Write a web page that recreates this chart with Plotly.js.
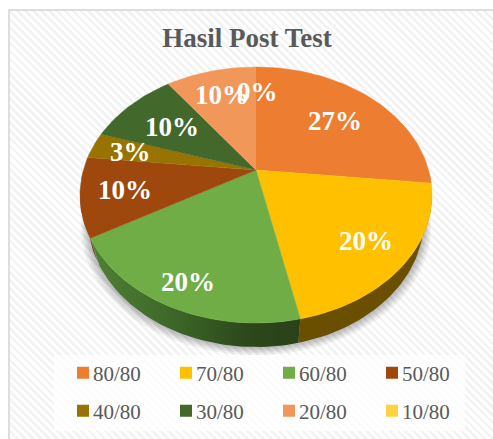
<!DOCTYPE html>
<html>
<head>
<meta charset="utf-8">
<script src="https://cdn.plot.ly/plotly-3.0.1.min.js"></script>
<style>
html,body{margin:0;padding:0;background:#fff;overflow:hidden}
#frame{position:absolute;left:8px;top:9px;width:500px;height:450px;border:2px solid #dedede;
background:repeating-linear-gradient(45deg,#ffffff 0 3px,#f3f3f3 3px 5.6px)}
#chart{position:absolute;left:0;top:0;width:493px;height:439px}
</style>
</head>
<body>
<div id="frame"></div>
<div id="chart"></div>
<script>
// Data (the labels show these counts out of 30 as percentages)
const categories = ['80/80','70/80','60/80','50/80','40/80','30/80','20/80','10/80'];
const counts = [8,6,6,3,1,3,3,0];
const colors = ['#ED7D31','#FFC000','#70AD47','#9E480E','#997300','#43682B','#F1975A','#FFD23F'];

// Layout of the tilted pie, in pixels of the 493x439 page
const labelX = [335,366,188,125,130,172,222,257];
const labelY = [121,241,282,190,152,127,95,92];
const pie = {cx:256, cy:195, ry:128, d:172.6, c:0.195, depth:24, rimScale:0.955};
const sideStart = 101.2, sideEnd = 258.8;

// Perspective projection of a circle point (angle in degrees clockwise from 12 o'clock)
function project(deg, r){
  const t = deg*Math.PI/180, u = r*Math.sin(t), v = r*Math.cos(t);
  const w = 1 + pie.c*v;
  return [pie.cx + pie.d*u/w, pie.cy - (pie.ry*v + pie.ry*pie.c)/w];
}
function arc(a0, a1){
  const n = Math.max(2, Math.ceil(Math.abs(a1-a0)/1.5));
  const pts = [];
  for(let i=0;i<=n;i++) pts.push(project(a0+(a1-a0)*i/n, 1));
  return pts;
}
// wall between the rim of the top face and the lower, slightly narrower rim
function band(a0, a1, drop, scale){
  const top = arc(a0,a1);
  const bot = arc(a0,a1).map(p=>[pie.cx+(p[0]-pie.cx)*scale, p[1]+drop]).reverse();
  return top.concat(bot);
}
function poly(pts, extra){
  return Object.assign({type:'scatter',mode:'lines',x:pts.map(p=>p[0]),y:pts.map(p=>p[1]),
    fill:'toself',showlegend:false,hoverinfo:'skip',line:{width:0}},extra);
}

const total = counts.reduce((a,b)=>a+b,0);
const traces = [];

// soft shadow under the pie
[8,6,4.5,3,1.5].forEach(s=>{
  traces.push(poly(band(sideStart-8,sideEnd+8,pie.depth+s,pie.rimScale+s*0.005),{fillcolor:'rgba(60,60,60,0.07)'}));
});

// slices: side walls first, then top faces
let acc = 0;
const sliceAngles = counts.map(p=>{const a=[acc,acc+p/total*360];acc=a[1];return a;});
const sideStyles = [
  null,
  {fillcolor:'#6A4F00'},
  {fillgradient:{type:'horizontal',colorscale:[[0,'#4F8035'],[0.35,'#3F6A2A'],[0.75,'#2D481B'],[1,'#2A4019']]}},
  {fillcolor:'#6E3208'},
  null,null,null,null
];
counts.forEach((p,i)=>{
  if(!sideStyles[i]) return;
  const a0=Math.max(sliceAngles[i][0],sideStart), a1=Math.min(sliceAngles[i][1],sideEnd);
  if(a1>a0) traces.push(poly(band(a0,a1,pie.depth,pie.rimScale),sideStyles[i]));
});
counts.forEach((p,i)=>{
  if(p<=0) return;
  const pts=[project(0,0)].concat(arc(sliceAngles[i][0],sliceAngles[i][1]));
  traces.push(poly(pts,{fillcolor:colors[i],line:{width:0.5,color:colors[i]}}));
});

// legend entries
categories.forEach((name,i)=>{
  traces.push({type:'scatter',mode:'markers',x:[null],y:[null],name:name,
    legend:i<4?'legend':'legend2',showlegend:true,hoverinfo:'skip',
    marker:{symbol:'square',size:12,color:colors[i]}});
});

const serif = '"Liberation Serif","Times New Roman",serif';
const legendBase = {orientation:'h',entrywidth:58,entrywidthmode:'pixels',x:53/493,xanchor:'left',yanchor:'middle',
  bgcolor:'rgba(0,0,0,0)',borderwidth:0,font:{family:serif,size:21,color:'#595959'},traceorder:'normal'};

const layout = {
  width:493,height:439,margin:{l:0,r:0,t:0,b:0,pad:0,autoexpand:false},autosize:false,
  paper_bgcolor:'rgba(0,0,0,0)',plot_bgcolor:'rgba(0,0,0,0)',
  title:{text:'<b>Hasil Post Test</b>',x:247/493,xanchor:'center',xref:'paper',y:1-38/439,yanchor:'middle',yref:'paper',
    font:{family:serif,size:27,color:'#595959'}},
  xaxis:{range:[0,493],visible:false,fixedrange:true},
  yaxis:{range:[439,0],visible:false,fixedrange:true},
  showlegend:true,
  legend:Object.assign({y:1-373/439},legendBase),
  legend2:Object.assign({y:1-411/439},legendBase),
  shapes:[{type:'rect',xref:'x',yref:'y',x0:54,x1:465,y0:355,y1:431,layer:'below',line:{width:0},fillcolor:'rgba(255,255,255,0.75)'}],
  annotations:counts.map((c,i)=>({xref:'x',yref:'y',x:labelX[i],y:labelY[i],text:'<b>'+Math.round(c/total*100)+'%</b>',showarrow:false,
    xanchor:'center',yanchor:'middle',font:{family:serif,size:27,color:'#FFFFFF'}}))
};

Plotly.newPlot('chart',traces,layout,{staticPlot:true,displayModeBar:false}).then(()=>{
  // the reference keeps its legend swatches close to their labels
  document.querySelectorAll('.legendsymbols').forEach(g=>g.setAttribute('transform','translate(10,0)'));
});
</script>
</body>
</html>
